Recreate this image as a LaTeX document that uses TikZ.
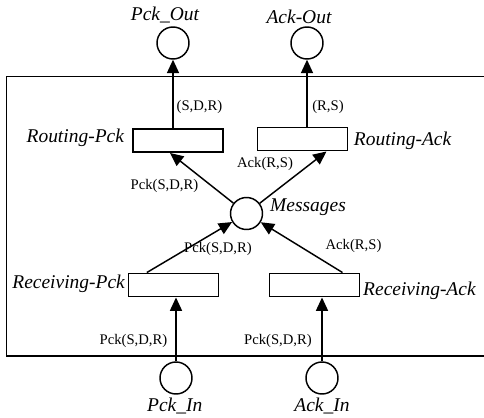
\documentclass[tikz,border=0pt]{standalone}
\usepackage{fontspec}
\setmainfont{Liberation Serif}
\usetikzlibrary{arrows.meta, positioning}

\begin{document}
\begin{tikzpicture}[
  x=0.75pt, y=-0.75pt,
  place/.style={draw, circle, line width=1.1pt, minimum size=24pt, inner sep=0pt},
  trans/.style={draw, line width=1.2pt, minimum width=67.5pt, minimum height=17.5pt, inner sep=0pt},
  lbl/.style={font=\fontsize{14.6}{16}\selectfont\itshape, inner sep=1pt},
  insc/.style={font=\fontsize{11}{13}\selectfont, inner sep=0pt},
  arc/.style={-{Triangle[length=10pt, width=9pt]}, line width=1.1pt},
]
\useasboundingbox (0,0) rectangle (484,417);

% Net boundary, open on the right
\draw[line width=1.1pt] (490,76.5) -- (6.5,76.5) -- (6.5,356) -- (490,356);

% Places
\node[place] (pckout) at (173,43) {};
\node[place] (ackout) at (307,43) {};
\node[place] (msg) at (246.5,213.5) {};
\node[place] (pckin) at (176,378) {};
\node[place] (ackin) at (322,378) {};

% Transitions
\node[trans] (rpck) at (178,140.5) {};
\node[trans] (rack) at (302.5,139) {};
\node[trans] (rcvpck) at (173.5,285) {};
\node[trans] (rcvack) at (314.5,285) {};

% Place names
\node[lbl, above=1pt of pckout, xshift=-6pt] (pckoutlbl) {Pck\_Out};
\node[lbl, above=1pt of ackout, xshift=-6pt] (ackoutlbl) {Ack-Out};
\node[lbl, right=4pt of msg, yshift=4.5pt] (msglbl) {Messages};
\node[lbl, below=1pt of pckin, xshift=-1pt] (pckinlbl) {Pck\_In};
\node[lbl, below=1pt of ackin] (ackinlbl) {Ack\_In};

% Transition names
\node[lbl, left=5pt of rpck, yshift=2pt] (rpcklbl) {Routing-Pck};
\node[lbl, right=3pt of rack, yshift=-1pt] (racklbl) {Routing-Ack};
\node[lbl, left=1pt of rcvpck, yshift=1pt] (rcvpcklbl) {Receiving-Pck};
\node[lbl, right=1pt of rcvack, yshift=-4pt] (rcvacklbl) {Receiving-Ack};

% Arcs
\draw[arc] (pckout |- rpck.north) -- (pckout);
\draw[arc] (ackout |- rack.north) -- (ackout);
\draw[arc] (msg) -- ([xshift=-6pt]rpck.south);
\draw[arc] (msg) -- ([xshift=18pt]rack.south);
\draw[arc] ([xshift=-20pt]rcvpck.north) -- (msg);
\draw[arc] ([xshift=21pt]rcvack.north) -- (msg);
\draw[arc] (pckin) -- (pckin |- rcvpck.south);
\draw[arc] (ackin) -- (ackin |- rcvack.south);

% Arc inscriptions
\node[insc] (i1) at (199.5,106.5) {(S,D,R)};
\node[insc] (i2) at (328,106.5) {(R,S)};
\node[insc] (i3) at (164.5,186) {Pck(S,D,R)};
\node[insc] (i4) at (265,164) {Ack(R,S)};
\node[insc] (i5) at (218,249) {Pck(S,D,R)};
\node[insc] (i6) at (353.5,246) {Ack(R,S)};
\node[insc] (i7) at (133.5,341) {Pck(S,D,R)};
\node[insc] (i8) at (278,341) {Pck(S,D,R)};
\end{tikzpicture}
\end{document}
